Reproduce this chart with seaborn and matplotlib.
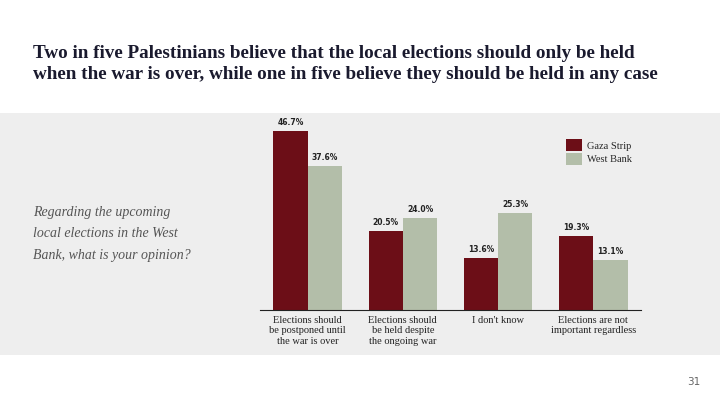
import matplotlib
matplotlib.use("Agg")
import matplotlib.pyplot as plt
import matplotlib.patches as mpatches
import pandas as pd
import seaborn as sns

# Data
categories = [
    "Elections should\nbe postponed until\nthe war is over",
    "Elections should\nbe held despite\nthe ongoing war",
    "I don't know",
    "Elections are not\nimportant regardless",
]
gaza = [46.7, 20.5, 13.6, 19.3]
west_bank = [37.6, 24.0, 25.3, 13.1]
regions = ["Gaza Strip", "West Bank"]
colors = ["#6c0e17", "#b3bea9"]

df = pd.DataFrame({
    "answer": categories * 2,
    "region": ["Gaza Strip"] * 4 + ["West Bank"] * 4,
    "value": gaza + west_bank,
})

sns.set_style("white")
plt.rcParams["font.family"] = ["Liberation Serif", "DejaVu Serif"]

fig = plt.figure(figsize=(7.2, 4.05), dpi=100)
fig.patch.set_facecolor("white")

# gray band behind the chart
band = mpatches.Rectangle((0, 50 / 405), 1, 242 / 405, transform=fig.transFigure,
                          facecolor="#eeeeee", edgecolor="none", zorder=-5)
fig.patches.append(band)

ax = fig.add_axes([260 / 720, 95 / 405, 381 / 720, 191.5 / 405])
ax.set_facecolor("none")
ax.set_zorder(2)

sns.barplot(data=df, x="answer", y="value", hue="region", hue_order=regions,
            palette=colors, width=0.72, saturation=1, linewidth=0, ax=ax)

for cont in ax.containers:
    ax.bar_label(cont, labels=[f"{v:.1f}%" for v in cont.datavalues],
                 padding=3, fontsize=5.5, fontweight="bold", color="#222222",
                 family="DejaVu Sans")

ax.set_ylim(0, 50)
ax.set_xlim(-0.5, 3.5)
ax.set_xlabel("")
ax.set_ylabel("")
ax.set_yticks([])
for s in ["top", "right", "left"]:
    ax.spines[s].set_visible(False)
ax.spines["bottom"].set_color("#222222")
ax.spines["bottom"].set_linewidth(0.8)
ax.tick_params(axis="x", length=0, pad=4, labelsize=7.5, labelcolor="#222222")
for lbl in ax.get_xticklabels():
    lbl.set_linespacing(1.25)

ax.legend(loc="upper right", bbox_to_anchor=(1.0, 0.94), frameon=False,
          fontsize=7.5, handlelength=1.6, handleheight=1.3, handletextpad=0.4,
          labelspacing=0.25)

fig.text(33 / 720, 1 - 64 / 405,
         "Two in five Palestinians believe that the local elections should only be held\n"
         "when the war is over, while one in five believe they should be held in any case",
         fontsize=13.8, fontweight="bold", color="#1a1a2e", va="center", ha="left",
         linespacing=1.3)

fig.text(33 / 720, 1 - 234 / 405,
         "Regarding the upcoming\nlocal elections in the West\nBank, what is your opinion?",
         fontsize=10, style="italic", color="#555555", va="center", ha="left",
         linespacing=1.8)

fig.text(694 / 720, 1 - 382 / 405, "31", fontsize=7.5, color="#666666",
         ha="center", va="center", family="DejaVu Sans")

fig.savefig("out.png", dpi=100)
